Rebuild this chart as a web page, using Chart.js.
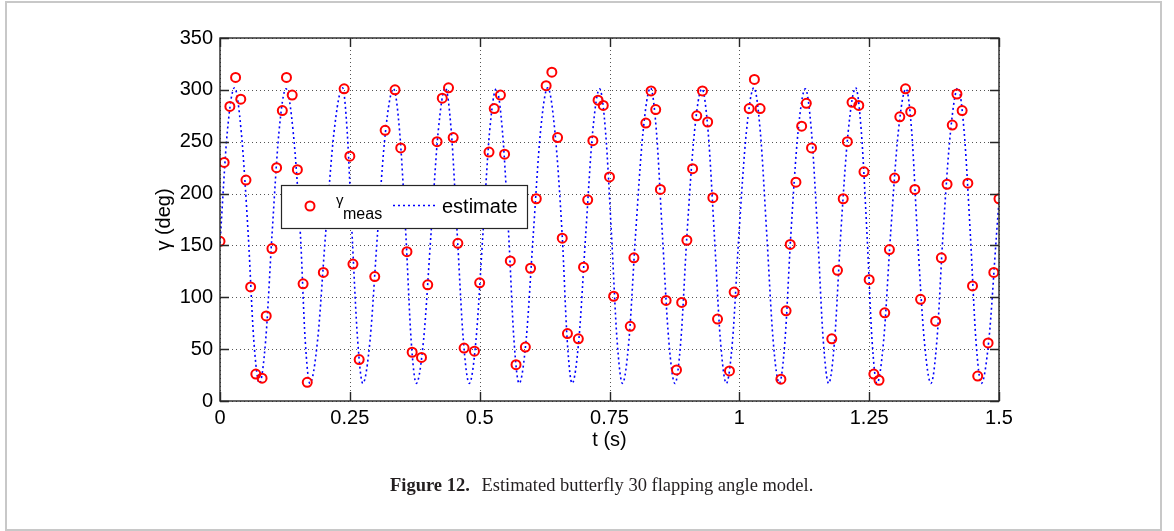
<!DOCTYPE html>
<html lang="en">
<head>
  <meta charset="UTF-8" />
  <title>Estimated butterfly 30 flapping angle model</title>
  <script src="https://cdn.jsdelivr.net/npm/chart.js"></script>
  <style>
    body { margin: 0; background: #fff; }
    #wrap { position: relative; width: 1174px; height: 531px; }
    #frame { position: absolute; left: 5px; top: 1px; width: 1153px; height: 526px; border: 2px solid #c8c8c8; }
    #chart { position: absolute; left: 0; top: 0; }
    #caption { position: absolute; left: 390px; top: 475px; font-family: "Liberation Serif", "Times New Roman", serif; font-size: 18.5px; color: #231f20; white-space: nowrap; }
    #caption b { margin-right: 7px; }
  </style>
</head>
<body>
  <div id="wrap">
    <div id="frame"></div>
    <canvas id="chart" width="1174" height="531"></canvas>
    <div id="caption"><b>Figure 12.</b> Estimated butterfly 30 flapping angle model.</div>
  </div>

  <script>
    // measured flapping angle (red circles)
    const measT = [0, 0.008, 0.019, 0.030, 0.040, 0.050, 0.059, 0.069, 0.081, 0.089, 0.100, 0.109, 0.120, 0.128, 0.139, 0.149, 0.160, 0.168, 0.199,
      0.239, 0.250, 0.256, 0.268, 0.298, 0.318, 0.337, 0.348, 0.360, 0.370, 0.388, 0.400, 0.418, 0.428, 0.440, 0.449, 0.458, 0.470, 0.490,
      0.500, 0.518, 0.528, 0.540, 0.548, 0.559, 0.570, 0.588, 0.598, 0.609, 0.628, 0.639, 0.650, 0.659, 0.669, 0.690, 0.700, 0.708, 0.718,
      0.728, 0.738, 0.750, 0.758, 0.790, 0.797, 0.820, 0.830, 0.839, 0.848, 0.859, 0.879, 0.889, 0.899, 0.910, 0.918, 0.929, 0.939, 0.949,
      0.958, 0.981, 0.990, 1.019, 1.029, 1.040, 1.080, 1.090, 1.098, 1.109, 1.120, 1.129, 1.139, 1.178, 1.189, 1.200, 1.208, 1.217, 1.230,
      1.240, 1.250, 1.259, 1.269, 1.280, 1.289, 1.299, 1.309, 1.320, 1.330, 1.338, 1.349, 1.378, 1.389, 1.400, 1.410, 1.419, 1.429, 1.440,
      1.449, 1.459, 1.479, 1.490, 1.500];
    const measDeg = [154, 230, 284, 312, 291, 213, 110, 26, 22, 82, 147, 225, 280, 312, 295, 223, 113, 18, 124,
      301, 236, 132, 40, 120, 261, 300, 244, 144, 47, 42, 112, 250, 292, 302, 254, 152, 51, 48,
      114, 240, 282, 295, 238, 135, 35, 52, 128, 195, 304, 317, 254, 157, 65, 60, 129, 194, 251,
      290, 285, 216, 101, 72, 138, 268, 299, 281, 204, 97, 30, 95, 155, 224, 275, 299, 269, 196,
      79, 29, 105, 282, 310, 282, 21, 87, 151, 211, 265, 287, 244, 60, 126, 195, 250, 288, 285,
      221, 117, 26, 20, 85, 146, 215, 274, 301, 279, 204, 98, 77, 138, 209, 266, 296, 280, 210,
      111, 24, 56, 124, 195];

    // model estimate (blue dotted)
    const estT = [0, 0.014, 0.028, 0.041, 0.0545, 0.065, 0.076, 0.088, 0.100, 0.1135, 0.127, 0.141, 0.155, 0.164, 0.173, 0.188, 0.203, 0.2195,
      0.236, 0.245, 0.2545, 0.265, 0.275, 0.289, 0.303, 0.3185, 0.334, 0.346, 0.358, 0.368, 0.378, 0.392, 0.406, 0.420,
      0.434, 0.4455, 0.457, 0.4685, 0.480, 0.493, 0.506, 0.519, 0.532, 0.544, 0.556, 0.566, 0.576, 0.5895, 0.603, 0.617,
      0.631, 0.645, 0.659, 0.6685, 0.678, 0.691, 0.704, 0.7175, 0.731, 0.7425, 0.754, 0.7645, 0.775, 0.7875, 0.800, 0.8145,
      0.829, 0.8405, 0.852, 0.864, 0.876, 0.8875, 0.899, 0.9135, 0.928, 0.940, 0.952, 0.9635, 0.975, 0.987, 0.999, 1.0135,
      1.028, 1.0405, 1.053, 1.065, 1.077, 1.088, 1.099, 1.113, 1.127, 1.139, 1.151, 1.1615, 1.172, 1.1835, 1.195, 1.2095,
      1.224, 1.235, 1.246, 1.2555, 1.265, 1.278, 1.291, 1.306, 1.321, 1.332, 1.343, 1.356, 1.369, 1.3805, 1.392, 1.4065,
      1.421, 1.433, 1.445, 1.4555, 1.466, 1.4805, 1.495, 1.5];
    const estDeg = [152, 259, 302, 259, 159, 59, 17, 59, 159, 259, 301, 259, 159, 59, 17, 59, 159, 259,
      302, 259, 159, 59, 17, 59, 159, 259, 301, 259, 159, 59, 17, 59, 159, 259,
      302, 259, 159, 59, 17, 59, 159, 259, 301, 259, 159, 59, 17, 59, 159, 259,
      302, 259, 159, 59, 17, 59, 159, 259, 301, 259, 159, 59, 17, 59, 159, 259,
      302, 259, 159, 59, 17, 59, 159, 259, 301, 259, 159, 59, 17, 59, 159, 259,
      302, 259, 159, 59, 17, 59, 159, 259, 301, 259, 159, 59, 17, 59, 159, 259,
      302, 259, 159, 59, 17, 59, 159, 259, 301, 259, 159, 59, 17, 59, 159, 259,
      302, 259, 159, 59, 17, 59, 159, 193];

    const xTicks = [0, 0.25, 0.5, 0.75, 1, 1.25, 1.5];
    const xLabels = ['0', '0.25', '0.5', '0.75', '1', '1.25', '1.5'];
    const yTicks = [0, 50, 100, 150, 200, 250, 300, 350];
    const yLabels = ['0', '50', '100', '150', '200', '250', '300', '350'];

    const xTitle = 't (s)';
    const yTitle = 'γ (deg)';
    const measLabel = ['γ', 'meas'];
    const estLabel = 'estimate';

    const FONT = '"Liberation Sans", Arial, Helvetica, sans-serif';

    // MATLAB-style axes: dotted grid, boxed frame, inward ticks, legend inside
    const matlabAxes = {
      id: 'matlabAxes',
      beforeDatasetsDraw(chart) {
        const { ctx, chartArea: a, scales: { x, y } } = chart;
        ctx.save();
        ctx.strokeStyle = '#555';
        ctx.lineWidth = 1;
        ctx.setLineDash([1, 3]);
        xTicks.forEach(v => {
          const px = Math.round(x.getPixelForValue(v)) + 0.5;
          ctx.beginPath(); ctx.moveTo(px, a.top); ctx.lineTo(px, a.bottom); ctx.stroke();
        });
        yTicks.forEach(v => {
          const py = Math.round(y.getPixelForValue(v)) + 0.5;
          ctx.beginPath(); ctx.moveTo(a.left, py); ctx.lineTo(a.right, py); ctx.stroke();
        });
        ctx.restore();
      },
      afterDatasetsDraw(chart) {
        const { ctx, chartArea: a } = chart;
        const bx = a.left + 61, by = a.top + 147, bw = 246, bh = 43;
        ctx.save();
        ctx.fillStyle = '#fff';
        ctx.fillRect(bx, by, bw, bh);
        ctx.strokeStyle = '#262626';
        ctx.lineWidth = 1.2;
        ctx.strokeRect(bx + 0.5, by + 0.5, bw, bh);

        ctx.beginPath();
        ctx.arc(bx + 29, by + 21, 4.5, 0, Math.PI * 2);
        ctx.strokeStyle = '#ff0000';
        ctx.lineWidth = 2;
        ctx.stroke();

        ctx.fillStyle = '#000';
        ctx.textBaseline = 'alphabetic';
        ctx.font = '15px ' + FONT;
        ctx.fillText(measLabel[0], bx + 55, by + 20);
        ctx.font = '16px ' + FONT;
        ctx.fillText(measLabel[1], bx + 62, by + 34);

        ctx.strokeStyle = '#0000ff';
        ctx.lineWidth = 1.6;
        ctx.setLineDash([2, 3]);
        ctx.beginPath(); ctx.moveTo(bx + 112, by + 20.5); ctx.lineTo(bx + 156, by + 20.5); ctx.stroke();
        ctx.setLineDash([]);

        ctx.font = '20px ' + FONT;
        ctx.fillText(estLabel, bx + 161, by + 28);
        ctx.restore();
      },
      afterDraw(chart) {
        const { ctx, chartArea: a, scales: { x, y } } = chart;
        ctx.save();
        ctx.strokeStyle = '#262626';
        ctx.lineWidth = 1.4;
        ctx.strokeRect(a.left, a.top, a.right - a.left, a.bottom - a.top);
        const tl = 9;
        ctx.beginPath();
        xTicks.forEach(v => {
          const px = Math.round(x.getPixelForValue(v)) + 0.5;
          ctx.moveTo(px, a.bottom); ctx.lineTo(px, a.bottom - tl);
          ctx.moveTo(px, a.top); ctx.lineTo(px, a.top + tl);
        });
        yTicks.forEach(v => {
          const py = Math.round(y.getPixelForValue(v)) + 0.5;
          ctx.moveTo(a.left, py); ctx.lineTo(a.left + tl, py);
          ctx.moveTo(a.right, py); ctx.lineTo(a.right - tl, py);
        });
        ctx.stroke();

        ctx.fillStyle = '#000';
        ctx.font = '20px ' + FONT;
        ctx.textAlign = 'center';
        ctx.textBaseline = 'middle';
        ctx.fillText(xTitle, (a.left + a.right) / 2, a.bottom + 39);
        ctx.translate(a.left - 56, (a.top + a.bottom) / 2);
        ctx.rotate(-Math.PI / 2);
        ctx.fillText(yTitle, 0, 0);
        ctx.restore();
      }
    };

    new Chart(document.getElementById('chart'), {
      type: 'scatter',
      data: {
        datasets: [
          {
            label: measLabel.join(''),
            data: measT.map((t, i) => ({ x: t, y: measDeg[i] })),
            pointStyle: 'circle',
            pointRadius: 4.5,
            pointBorderWidth: 2,
            pointBorderColor: '#ff0000',
            pointBackgroundColor: 'rgba(0,0,0,0)',
            showLine: false
          },
          {
            label: estLabel,
            data: estT.map((t, i) => ({ x: t, y: estDeg[i] })),
            showLine: true,
            pointRadius: 0,
            borderColor: '#0000ff',
            borderWidth: 1.6,
            borderDash: [2, 3],
            cubicInterpolationMode: 'monotone',
            fill: false
          }
        ]
      },
      options: {
        responsive: false,
        animation: false,
        events: [],
        layout: { padding: { left: 0, right: 175, top: 38, bottom: 0 } },
        plugins: { legend: { display: false }, tooltip: { enabled: false } },
        scales: {
          x: {
            type: 'linear',
            min: 0, max: 1.5,
            afterBuildTicks: s => { s.ticks = xTicks.map(v => ({ value: v })); },
            afterFit: s => { s.height = 130; },
            grid: { display: false, drawTicks: false },
            border: { display: false },
            ticks: {
              padding: 5,
              color: '#000',
              font: { family: FONT, size: 20 },
              maxRotation: 0,
              callback: (v, i) => xLabels[i]
            }
          },
          y: {
            type: 'linear',
            min: 0, max: 350,
            afterBuildTicks: s => { s.ticks = yTicks.map(v => ({ value: v })); },
            afterFit: s => { s.width = 220; },
            grid: { display: false, drawTicks: false },
            border: { display: false },
            ticks: {
              padding: 7,
              color: '#000',
              font: { family: FONT, size: 20 },
              callback: (v, i) => yLabels[i]
            }
          }
        }
      },
      plugins: [matlabAxes]
    });
  </script>
</body>
</html>
